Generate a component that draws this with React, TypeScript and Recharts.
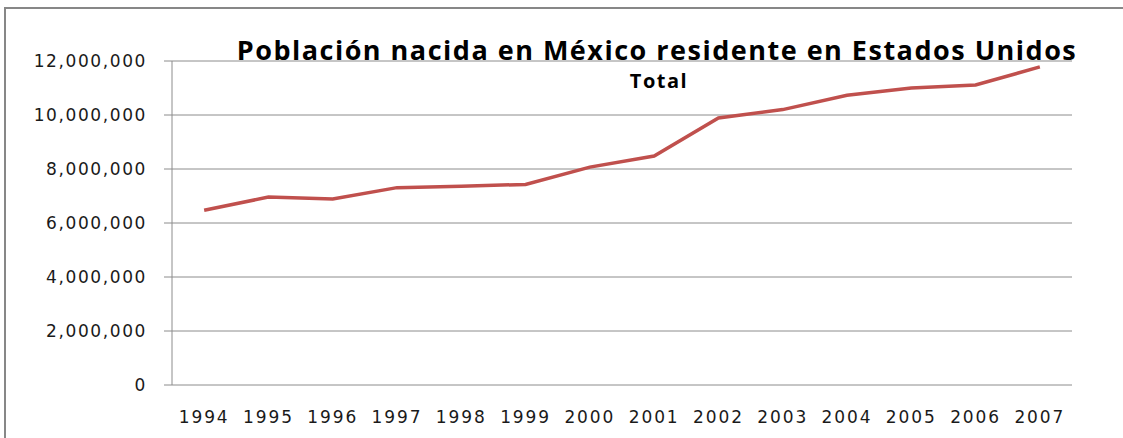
import React from "react";
import { LineChart, Line, XAxis, YAxis, CartesianGrid } from "recharts";

const years = [1994, 1995, 1996, 1997, 1998, 1999, 2000, 2001, 2002, 2003, 2004, 2005, 2006, 2007];
const totals = [
  6470000, 6960000, 6890000, 7310000, 7360000, 7430000, 8070000, 8480000, 9890000, 10200000,
  10730000, 11000000, 11110000, 11780000,
];
const yTicks = [0, 2000000, 4000000, 6000000, 8000000, 10000000, 12000000];
const boundaryTicks = [1993.5, 1994.5, 1995.5, 1996.5, 1997.5, 1998.5, 1999.5, 2000.5, 2001.5, 2002.5, 2003.5, 2004.5, 2005.5, 2006.5, 2007.5];

const data = years.map((year, i) => ({ year, total: totals[i] }));

const yFont = { fontFamily: "DejaVu Sans", fontSize: 17, fill: "#1a1a1a", letterSpacing: 1.6 };
const xFont = { fontFamily: "DejaVu Sans", fontSize: 17, fill: "#1a1a1a", letterSpacing: 1.9 };
const gray = "#8c8c8c";

export default function App() {
  return (
    <div style={{ position: "absolute", left: 0, top: 0, width: 1123, height: 438, background: "#fff", overflow: "hidden" }}>
      <div
        style={{
          position: "absolute",
          left: 4,
          top: 7,
          width: 1200,
          height: 500,
          borderLeft: "2px solid #878787",
          borderTop: "2px solid #878787",
        }}
      />
      <LineChart
        width={1123}
        height={438}
        data={data}
        margin={{ top: 61, right: 51, bottom: 13, left: 0 }}
      >
        <CartesianGrid vertical={false} stroke={gray} strokeWidth={1} />
        <XAxis
          xAxisId="ticks"
          dataKey="year"
          type="number"
          domain={[1993.5, 2007.5]}
          ticks={boundaryTicks}
          tickFormatter={() => ""}
          tickSize={5}
          height={0}
          axisLine={{ stroke: gray }}
          tickLine={{ stroke: gray }}
          allowDataOverflow
        />
        <XAxis
          xAxisId="labels"
          dataKey="year"
          type="number"
          domain={[1993.5, 2007.5]}
          ticks={years}
          interval={0}
          tickSize={0}
          tickMargin={26}
          axisLine={false}
          tickLine={false}
          tick={xFont}
          height={40}
          allowDataOverflow
        />
        <YAxis
          domain={[0, 12000000]}
          ticks={yTicks}
          interval={0}
          width={172}
          tickSize={8}
          tickMargin={17}
          axisLine={{ stroke: gray }}
          tickLine={{ stroke: gray }}
          tick={yFont}
          tickFormatter={(v: number) => v.toLocaleString("en-US")}
        />
        <Line
          xAxisId="labels"
          type="linear"
          dataKey="total"
          stroke="#c0504d"
          strokeWidth={3.5}
          dot={false}
          isAnimationActive={false}
        />
      </LineChart>
      <div
        style={{
          position: "absolute",
          left: 157,
          top: 31,
          width: 1000,
          textAlign: "center",
          fontFamily: "Open Sans",
          fontWeight: 700,
          fontSize: 27,
          color: "#000",
          whiteSpace: "nowrap",
          letterSpacing: 1.5,
        }}
      >
        Población nacida en México residente en Estados Unidos
      </div>
      <div
        style={{
          position: "absolute",
          left: 559,
          top: 67,
          width: 200,
          textAlign: "center",
          fontFamily: "Open Sans",
          fontWeight: 700,
          fontSize: 20,
          color: "#000",
          letterSpacing: 1.5,
        }}
      >
        Total
      </div>
    </div>
  );
}
